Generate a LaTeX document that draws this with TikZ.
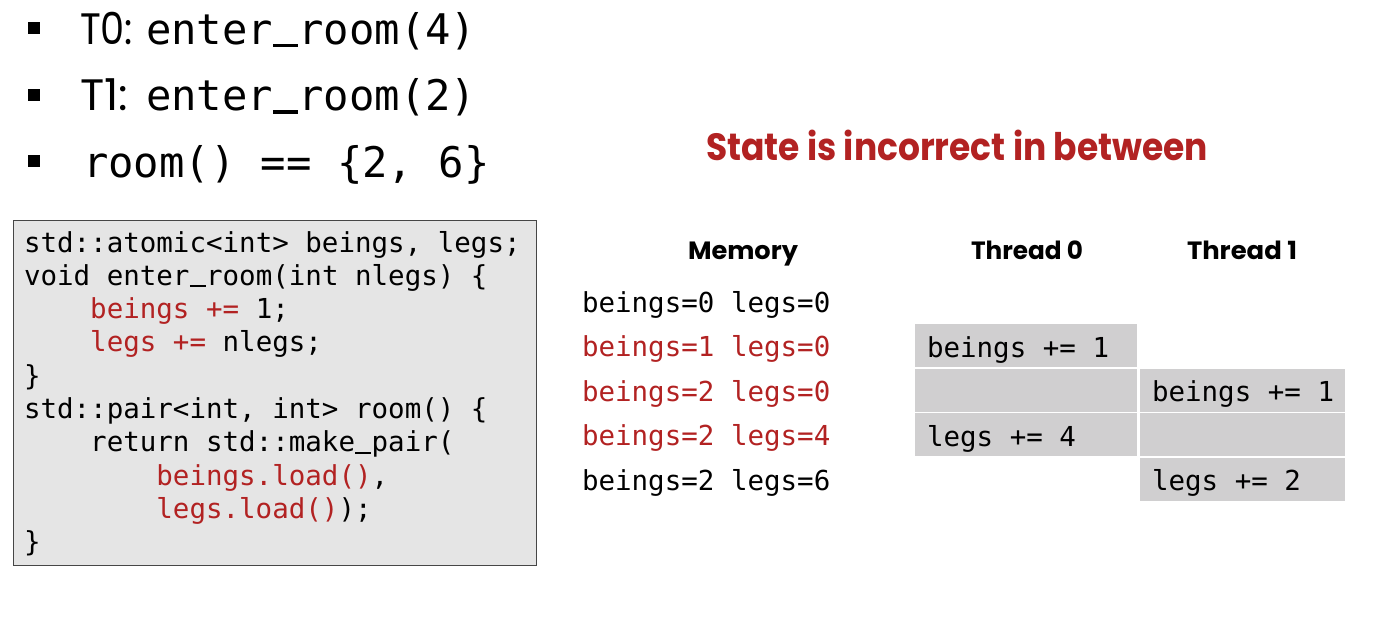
\documentclass[tikz,border=0pt]{standalone}
\usepackage{fontspec}
\usepackage{graphicx}
\setmonofont{DejaVu Sans Mono}
\newfontfamily\headfont{Poppins}
\definecolor{hot}{RGB}{178,34,34}
\definecolor{codebg}{RGB}{229,229,229}
\definecolor{cellbg}{RGB}{208,207,208}
\definecolor{frame}{RGB}{70,70,70}

% set #2 and stretch it horizontally to a width of #1 pt
\newcommand\fitw[2]{\sbox0{#2}\pgfmathsetmacro\fitr{#1/\the\wd0}\scalebox{\fitr}[1]{\usebox0}}
% underscore drawn as a rule, one monospace cell wide
\newcommand\us{\makebox[0.602em][c]{\rule[-0.07em]{0.58em}{0.075em}}}

\tikzset{
  txt/.style={anchor=base west, inner sep=0pt, outer sep=0pt},
  big/.style={txt, font=\fontsize{42.2}{46}\ttfamily},
  code/.style={txt, font=\fontsize{27.5}{33}\ttfamily},
  bulletsq/.style={fill=black, draw=none, minimum size=12pt, inner sep=0pt},
  head/.style={txt, font=\fontsize{25}{28}\headfont\bfseries},
  cell/.style={anchor=north west, fill=cellbg, draw=none, inner sep=0pt,
    minimum height=43pt},
  cell0/.style={cell, minimum width=222pt},
  cell1/.style={cell, minimum width=205pt},
}

\begin{document}
\begin{tikzpicture}[x=1pt, y=-1pt]
\path[use as bounding box] (0,0) rectangle (1374,624);

% bullet list
\node[bulletsq] (b1) at (34,28) {};
\node[bulletsq] (b2) at (34,94.5) {};
\node[bulletsq] (b3) at (34,161) {};
\node[txt, font=\fontsize{44}{48}\headfont] (t0) at (80,44) {\fitw{53}{T0:}};
\node[big] (c0) at (146,44) {enter\us room(4)};
\node[txt, font=\fontsize{44}{48}\headfont] (t1) at (80,110.7) {\fitw{48}{T1:}};
\node[big] (c1) at (146,110.7) {enter\us room(2)};
\node[big] (r) at (83,177) {room() == \{2, 6\}};

% code listing
\node[anchor=north west, draw=frame, line width=1.3pt, fill=codebg,
      minimum width=523pt, minimum height=345pt, inner sep=0pt] (box) at (13,220) {};
\node[code] (l1) at (24,252) {std::atomic<int> beings, legs;};
\node[code] (l2) at (24,285.3) {void enter\us room(int nlegs) \{};
\node[code] (l3) at (90.2,318.6) {\textcolor{hot}{beings +=} 1;};
\node[code] (l4) at (90.2,351.9) {\textcolor{hot}{legs +=} nlegs;};
\node[code] (l5) at (24,385.2) {\}};
\node[code] (l6) at (24,418.5) {std::pair<int, int> room() \{};
\node[code] (l7) at (90.2,451.8) {return std::make\us pair(};
\node[code] (l8) at (156.4,485.1) {\textcolor{hot}{beings.load()},};
\node[code] (l9) at (156.4,518.4) {\textcolor{hot}{legs.load()});};
\node[code] (l10) at (24,551.7) {\}};

% title
\node[txt, text=hot, font=\fontsize{38}{42}\headfont\bfseries] (title) at (706,160)
  {\fitw{502}{State is incorrect in between}};

% column headings
\node[head] (hm) at (688,259.5) {\fitw{110}{Memory}};
\node[head] (h0) at (971,259.5) {\fitw{112}{Thread 0}};
\node[head] (h1) at (1187,259.5) {\fitw{110}{Thread 1}};

% memory states
\node[code] (m0) at (582,312) {beings=0 legs=0};
\node[code, text=hot] (m1) at (582,356.5) {beings=1 legs=0};
\node[code, text=hot] (m2) at (582,401) {beings=2 legs=0};
\node[code, text=hot] (m3) at (582,445.5) {beings=2 legs=4};
\node[code] (m4) at (582,490) {beings=2 legs=6};

% thread operation cells
\node[cell0] (a1) at (915,324) {};
\node[cell0] (a2) at (915,368.5) {};
\node[cell1] (s1) at (1140,368.5) {};
\node[cell0] (a3) at (915,413) {};
\node[cell1] (s2) at (1140,413) {};
\node[cell1] (s3) at (1140,457.5) {};

% thread operation texts
\node[code] (a1t) at (927,357) {beings += 1};
\node[code] (s1t) at (1152,401.5) {beings += 1};
\node[code] (a3t) at (927,446) {legs += 4};
\node[code] (s3t) at (1152,490.5) {legs += 2};
\end{tikzpicture}
\end{document}
